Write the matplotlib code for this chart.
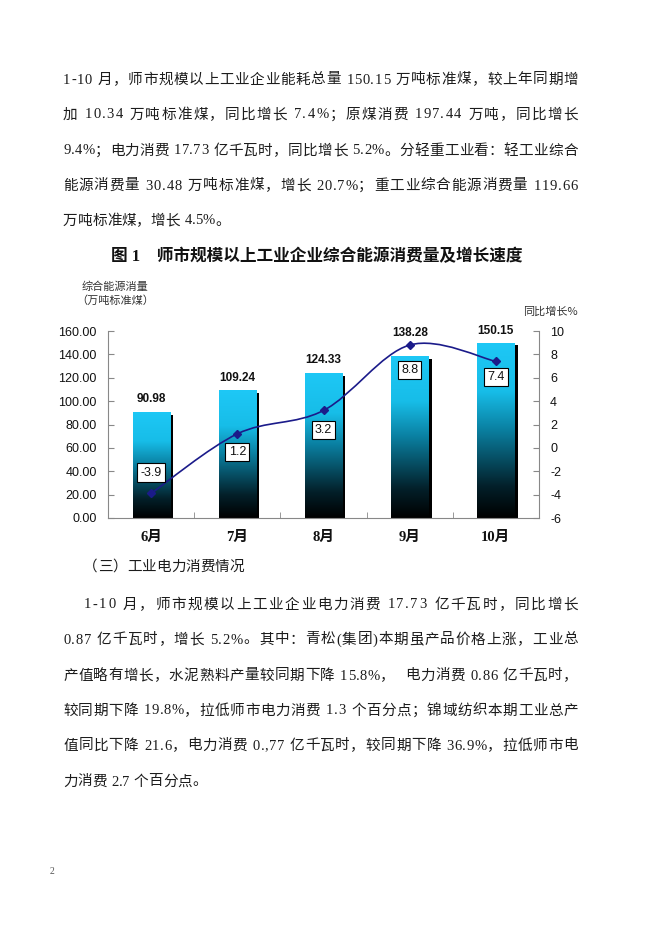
import numpy as np
import matplotlib
matplotlib.use("Agg")
import matplotlib.pyplot as plt
from matplotlib.colors import LinearSegmentedColormap
from matplotlib.font_manager import FontProperties
from matplotlib.path import Path
from matplotlib.patches import PathPatch

# ======================
# Datos del gráfico
# ======================
months = ["6月", "7月", "8月", "9月", "10月"]
energy = [90.98, 109.24, 124.33, 138.28, 150.15]   # 万吨标准煤
growth = [-3.9, 1.2, 3.2, 8.8, 7.4]                # 同比增长 %
left_ticks = [0, 20, 40, 60, 80, 100, 120, 140, 160]
right_ticks = [-6, -4, -2, 0, 2, 4, 6, 8, 10]

title = "图 1　师市规模以上工业企业综合能源消费量及增长速度"
left_label = ["综合能源消量", "（万吨标准煤）"]
right_label = "同比增长%"

para1 = [
    "1-10 月，师市规模以上工业企业能耗总量 150.15 万吨标准煤，较上年同期增",
    "加 10.34 万吨标准煤，同比增长 7.4%；原煤消费 197.44 万吨，同比增长",
    "9.4%；电力消费 17.73 亿千瓦时，同比增长 5.2%。分轻重工业看：轻工业综合",
    "能源消费量 30.48 万吨标准煤，增长 20.7%；重工业综合能源消费量 119.66",
    "万吨标准煤，增长 4.5%。",
]
section = "（三）工业电力消费情况"
para2 = [
    "1-10 月，师市规模以上工业企业电力消费 17.73 亿千瓦时，同比增长",
    "0.87 亿千瓦时，增长 5.2%。其中：青松(集团)本期虽产品价格上涨，工业总",
    "产值略有增长，水泥熟料产量较同期下降 15.8%，  电力消费 0.86 亿千瓦时，",
    "较同期下降 19.8%，拉低师市电力消费 1.3 个百分点；锦域纺织本期工业总产",
    "值同比下降 21.6，电力消费 0.,77 亿千瓦时，较同期下降 36.9%，拉低师市电",
    "力消费 2.7 个百分点。",
]
page_no = "2"

# ======================
# Figura
# ======================
W, H = 660, 933
fig = plt.figure(figsize=(W / 100, H / 100), dpi=100)
fig.patch.set_facecolor("white")
renderer = fig.canvas.get_renderer()

BODY = ["Liberation Serif", "Noto Sans CJK SC"]
text_color = "#1c1c1c"


def put_line(s, y, x0, x1=None, size=10.5, weight="normal"):
    # coloca carácter por carácter, justificando si hay x1
    prop = FontProperties(family=BODY, size=size, weight=weight)
    space_w = size * 100 / 72 * 0.3
    widths = []
    for c in s:
        if c == " ":
            widths.append(space_w)
        else:
            widths.append(renderer.get_text_width_height_descent(c, prop, ismath=False)[0])
    gap = 0 if x1 is None else (x1 - x0 - sum(widths)) / (len(s) - 1)
    x = x0
    for c, w in zip(s, widths):
        if c != " ":
            fig.text(x / W, 1 - y / H, c, fontproperties=prop, ha="left", va="center",
                     color=text_color)
        x += w + gap


# párrafo 1
y1 = [80, 115, 151, 186, 221]
for i, line in enumerate(para1):
    put_line(line, y1[i], 63, 578 if i < len(para1) - 1 else None)

# párrafo 2
put_line(section, 567, 83)
y2 = [605, 640, 676, 711, 746, 782]
for i, line in enumerate(para2):
    x0 = 84 if i == 0 else 63
    put_line(line, y2[i], x0, 578 if i < len(para2) - 1 else None)

fig.text(52 / W, 1 - 871 / H, page_no, fontsize=7, color="#555555",
         family="Liberation Serif", ha="center", va="center")

# título
fig.text(317 / W, 1 - 257 / H, title, fontsize=12, weight="bold", family=BODY,
         ha="center", va="center", color="#111111")

# ======================
# Ejes
# ======================
ax = fig.add_axes([108 / W, 1 - 518 / H, (539 - 108) / W, (518 - 331) / H])
ax2 = ax.twinx()

x = np.arange(len(months))
bw = 0.43
grad_cmap = LinearSegmentedColormap.from_list(
    "cyan_black",
    [(0.0, "#000000"), (0.18, "#03202a"), (0.5, "#0a7fa0"), (0.72, "#17bde8"), (1.0, "#1ec8f6")])

# sombra
ax.bar(x + 0.04, np.array(energy) - 2.5, width=bw, color="black", zorder=1)
bars = ax.bar(x, energy, width=bw, color="none", zorder=2)
grad = np.linspace(0, 1, 256).reshape(-1, 1)
for b in bars:
    bx, by = b.get_x(), b.get_y()
    im = ax.imshow(grad, cmap=grad_cmap, origin="lower", aspect="auto",
                   extent=[bx, bx + b.get_width(), by, by + b.get_height()], zorder=2)
    im.set_clip_path(b)

value_offsets = [9, 9, 9, 17, 8]
for xi, v, off in zip(x, energy, value_offsets):
    ax.annotate(f"{v:.2f}", (xi, v), xytext=(0, off), textcoords="offset points",
                ha="center", va="center", fontsize=8.5, weight="bold",
                family="Liberation Sans", color="#111111")

ax.set_xlim(-0.5, len(months) - 0.5)
ax.set_ylim(0, 160)
ax.set_yticks(left_ticks)
ax.set_yticklabels([f"{t:.2f}" for t in left_ticks], family="Liberation Sans", fontsize=9)
ax.set_xticks(x)
ax.set_xticklabels(months, family=["Liberation Serif", "Noto Sans CJK SC"],
                   fontsize=10.5, weight="bold")
ax.set_xticks(np.arange(0.5, len(months) - 1), minor=True)
ax.tick_params(axis="x", which="major", length=0, pad=9, colors="#111111")
ax.tick_params(axis="x", which="minor", direction="in", length=4, color="#888888")
ax.tick_params(axis="y", direction="in", length=4, pad=8, color="#888888", labelcolor="#111111")
for s in ["top", "right"]:
    ax.spines[s].set_visible(False)
for s in ["left", "bottom"]:
    ax.spines[s].set_color("#888888")

# línea suavizada (Catmull-Rom -> Bezier)
navy = "#1b1b8a"
pts = np.column_stack([x, growth]).astype(float)
n = len(pts)
verts = [pts[0]]
codes = [Path.MOVETO]
for i in range(n - 1):
    p0 = pts[i - 1] if i > 0 else pts[i]
    p1, p2 = pts[i], pts[i + 1]
    p3 = pts[i + 2] if i + 2 < n else pts[i + 1]
    verts += [p1 + (p2 - p0) / 6, p2 - (p3 - p1) / 6, p2]
    codes += [Path.CURVE4] * 3
ax2.add_patch(PathPatch(Path(verts, codes), fill=False, ec=navy, lw=1.2, zorder=3))
ax2.plot(x, growth, ls="none", marker="D", ms=4, color=navy, zorder=4)

label_offsets = [15, -13, -14, -18, -11]
for xi, v, off in zip(x, growth, label_offsets):
    ax2.annotate(f"{v}", (xi, v), xytext=(0, off), textcoords="offset points",
                 ha="center", va="center", fontsize=9, family="Liberation Sans",
                 color="#111111", zorder=5,
                 bbox=dict(boxstyle="square,pad=0.25", fc="white", ec="black", lw=0.8))

ax2.set_ylim(-6, 10)
ax2.set_yticks(right_ticks)
ax2.set_yticklabels([str(t) for t in right_ticks], family="Liberation Sans", fontsize=9)
ax2.tick_params(axis="y", direction="in", length=4, pad=8, color="#888888", labelcolor="#111111")
for s in ["top", "left", "bottom"]:
    ax2.spines[s].set_visible(False)
ax2.spines["right"].set_color("#888888")

# títulos de ejes
fig.text(82 / W, 1 - 287 / H, left_label[0], fontsize=8, family="Noto Sans CJK SC",
         ha="left", va="center", color="#333333")
fig.text(76 / W, 1 - 301 / H, left_label[1], fontsize=8, family="Noto Sans CJK SC",
         ha="left", va="center", color="#333333")
fig.text(578 / W, 1 - 312 / H, right_label, fontsize=8, family="Noto Sans CJK SC",
         ha="right", va="center", color="#333333")

fig.savefig("out.png", dpi=100, facecolor="white")
